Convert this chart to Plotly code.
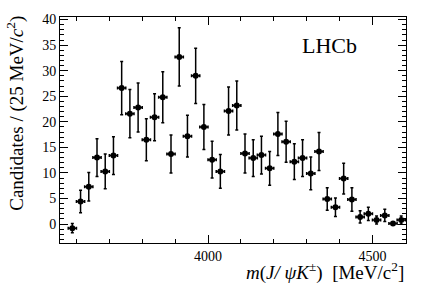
import plotly.graph_objects as go

mass = [3587.5 + 25 * i for i in range(41)]
counts = [-0.8, 4.4, 7.3, 13.0, 10.3, 13.4, 26.6, 21.6, 22.8, 16.5,
          20.9, 24.8, 13.7, 32.7, 17.2, 29.0, 19.0, 12.6, 10.3, 22.1,
          23.2, 13.8, 12.9, 13.5, 10.9, 17.6, 16.1, 12.2, 12.9, 9.9,
          14.2, 4.9, 3.3, 8.9, 4.8, 1.4, 2.0, 0.8, 1.7, 0.1, 0.8]
errors = [0.9, 2.2, 2.8, 3.7, 3.4, 3.7, 5.2, 4.7, 4.8, 4.1,
          4.6, 5.0, 3.7, 5.7, 4.1, 5.4, 4.4, 3.6, 3.3, 4.7,
          4.8, 3.8, 3.6, 3.7, 3.3, 4.2, 4.0, 3.5, 3.6, 3.2,
          3.7, 2.2, 1.8, 3.0, 2.3, 1.2, 1.3, 0.8, 1.2, 0.3, 0.8]
half_bin = [12.5] * len(mass)

FONT = "Liberation Serif, Times New Roman, serif"

fig = go.Figure()
fig.add_trace(go.Scatter(
    x=mass, y=counts, mode="markers",
    marker=dict(color="black", size=6, symbol="circle"),
    error_y=dict(type="data", array=errors, color="black", thickness=1.5, width=1.5),
    error_x=dict(type="data", array=half_bin, color="black", thickness=1.5, width=1.5),
    showlegend=False,
))

axis_common = dict(
    showline=True, linecolor="black", linewidth=1, mirror="allticks",
    ticks="inside", tickcolor="black", showgrid=False, zeroline=False,
    tickfont=dict(family=FONT, size=14, color="black"),
)

fig.update_layout(
    width=427, height=290,
    margin=dict(l=60, r=21, t=14, b=47),
    paper_bgcolor="white", plot_bgcolor="white",
    font=dict(family=FONT, color="black"),
    xaxis=dict(range=[3550, 4602], tick0=0, dtick=500, ticklen=8, tickwidth=1,
               minor=dict(dtick=100, ticklen=4, ticks="inside", tickcolor="black", showgrid=False),
               **axis_common),
    yaxis=dict(range=[-3.7, 40.5], tick0=0, dtick=5, ticklen=8, tickwidth=1,
               minor=dict(dtick=1, ticklen=4, ticks="inside", tickcolor="black", showgrid=False),
               **axis_common),
    annotations=[
        dict(text="Candidates / (25 MeV/<i>c</i><sup>2</sup>)",
             xref="paper", yref="paper", x=-0.127, y=0.572, xanchor="center", yanchor="middle",
             textangle=-90, showarrow=False,
             font=dict(family=FONT, size=19, color="black")),
        dict(text="<i>m</i>(<i>J/ ψK</i><sup>±</sup>)  [MeV/c<sup>2</sup>]",
             xref="paper", yref="paper", x=1.0, y=-0.128, xanchor="right", yanchor="middle",
             showarrow=False, font=dict(family=FONT, size=19, color="black")),
        dict(text="LHCb", xref="paper", yref="paper", x=0.78, y=0.875,
             xanchor="center", yanchor="middle", showarrow=False,
             font=dict(family=FONT, size=22, color="black")),
    ],
)

fig.write_html("out.html", config={"displayModeBar": False},
               post_script="document.body.style.margin='0px';")
